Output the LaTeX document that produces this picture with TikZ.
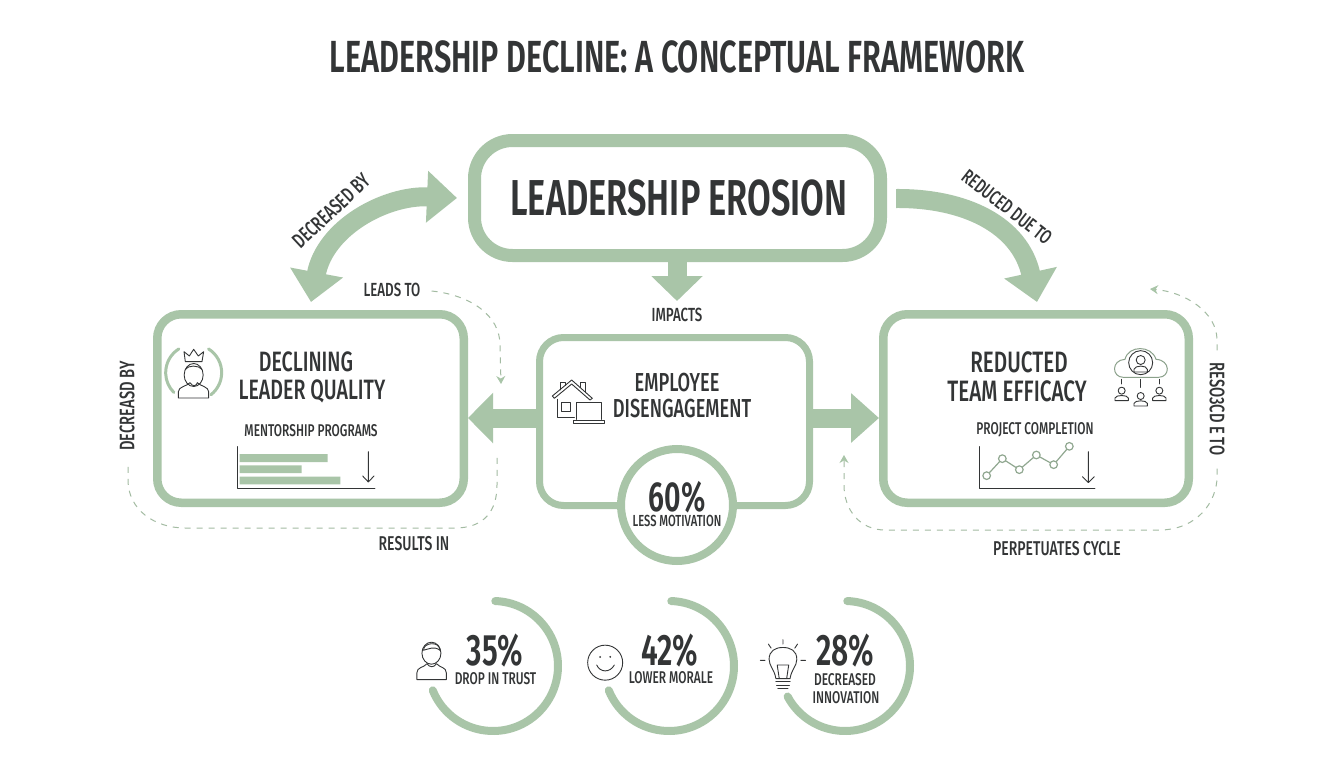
\documentclass[tikz,border=0pt]{standalone}
\usepackage{fontspec}
\setmainfont[FakeStretch=0.70,BoldFont={Fira Sans SemiBold},BoldFeatures={FakeStretch=0.68}]{Fira Sans Medium}
\usetikzlibrary{arrows.meta,calc,positioning}
\definecolor{sage}{HTML}{A9C5A8}
\definecolor{ink}{HTML}{333536}
\newcommand{\fs}[1]{\fontsize{#1}{#1}\selectfont}
\tikzset{
  bigbox/.style={draw=sage,fill=white,rounded corners=#1,inner sep=0pt},
  lbl/.style={text=ink,inner sep=0pt,align=center,font=\fs{#1}},
  head/.style={text=ink,inner sep=0pt,align=center,font=\fs{#1}\bfseries},
  loop/.style={draw=sage!85!gray,line width=1pt,dash pattern=on 6pt off 6pt},
  looptip/.style={-{Stealth[length=8pt,width=9pt,color=sage]}},
  block/.style={draw=sage,line width=#1},
  gauge/.style={draw=sage,line width=8pt,line cap=round},
  icon/.style={draw=ink,line width=.9pt,line cap=round,line join=round},
}
\begin{document}
\begin{tikzpicture}[x=1pt,y=-1pt]
\useasboundingbox[fill=white] (0,0) rectangle (1344,768);
\node[head=45] (title) at (677,57) {LEADERSHIP DECLINE: A CONCEPTUAL FRAMEWORK};

% free ends and guides
\coordinate (armY) at (0,418);
\coordinate (lt) at (457,198);
\coordinate (ld) at (311,302);
\coordinate (rs) at (896,198.5);
\coordinate (rd) at (1037,302);
\coordinate (imp) at (677,301);

% boxes
\node[bigbox=38pt,line width=13pt,minimum width=406pt,minimum height=115pt] (lead) at (677.5,198) {};
\node[head=50.5] at (679,198) {LEADERSHIP EROSION};
\node[bigbox=24pt,line width=8.5pt,minimum width=306.5pt,minimum height=188.5pt] (qual) at (310.5,408.5) {};
\node[bigbox=24pt,line width=8.5pt,minimum width=305.5pt,minimum height=188.5pt] (team) at (1036,408.5) {};
\node[bigbox=24pt,line width=7pt,minimum width=270pt,minimum height=168pt] (eng) at (674.5,421.5) {};

% block connectors
\draw[block=19pt,-{Triangle[length=25pt,width=49pt,color=sage]}] (eng.west |- armY) -- (qual.east |- armY);
\draw[block=19pt,-{Triangle[length=28pt,width=48pt,color=sage]}] (eng.east |- armY) -- (team.west |- armY);
\draw[block=19pt,-{Triangle[length=25pt,width=50pt,color=sage]}] (lead.south -| imp) -- (imp);
\draw[block=19pt,{Triangle[length=30pt,width=50pt,color=sage]}-{Triangle[length=30pt,width=52pt,color=sage]}] (lt) .. controls (385,195) and (325,228) .. (ld);
\draw[block=19pt,-{Triangle[length=30pt,width=52pt,color=sage]}] (rs) .. controls (965,198) and (1020,225) .. (rd);

% badge
\node[draw=sage,fill=white,line width=8pt,circle,minimum size=112pt,inner sep=0pt] (badge) at (677,505) {};
\node[head=42] at (677,497) {60\%};
\node[lbl=16] at (677,521) {LESS MOTIVATION};

% box texts
\node[lbl=28] at (306,362) {DECLINING};
\node[lbl=28] at (312,391) {LEADER QUALITY};
\node[lbl=17] at (311,431) {MENTORSHIP PROGRAMS};
\node[lbl=29.5] at (1019,362) {REDUCTED};
\node[lbl=29.5] at (1017,391) {TEAM EFFICACY};
\node[lbl=17] at (1035,430) {PROJECT COMPLETION};
\node[lbl=26] at (677,382.5) {EMPLOYEE};
\node[lbl=26] at (682,409) {DISENGAGEMENT};

% connector labels
\node[lbl=19] (impl) at (677,315) {IMPACTS};
\node[lbl=19] (lto) at (392,290) {LEADS TO};
\node[lbl=20] (res) at (414,544) {RESULTS IN};
\node[lbl=20] (perp) at (1057,549) {PERPETUATES CYCLE};
\node[lbl=21,rotate=90] (dec) at (127,406) {DECREASD BY};
\node[lbl=21,rotate=-90] (resd) at (1217,409) {RESO3CD E TO};
\node[lbl=21,rotate=43] (decl) at (331,211) {DECREASED BY};
\node[lbl=20,rotate=-38] (redu) at (1007,207) {REDUCED DUE TO};

% dashed loops
\coordinate (a1) at (501,384);
\draw[loop,looptip] (lto.east) ++(11,1) .. controls (470,295) and (500,315) .. (500,345) -- (a1);
\coordinate (a2) at (497,453);
\draw[loop] (dec.west) ++(1,16) -- (128,480) .. controls (128,510) and (155,528) .. (185,528) -- (455,528) .. controls (485,528) and (497,510) .. (497,485) -- (a2);
\coordinate (a3) at (1150,289);
\draw[loop,looptip] (resd.west) ++(0,-12) -- (1217,340) .. controls (1217,312) and (1185,292) .. (a3);
\coordinate (a4) at (844,455);
\draw[loop,looptip] (resd.east) ++(0,13) -- (1217,480) .. controls (1214,510) and (1190,530) .. (1160,530) -- (885,530) .. controls (860,530) and (844,510) .. (844,485) -- (a4);

% bottom gauges
\coordinate (g1) at (493,666);
\coordinate (g2) at (669,666);
\coordinate (g3) at (845,666);
\draw[gauge] (g1) ++(88:65pt) arc[radius=65pt,start angle=88,end angle=-158];
\draw[gauge] (g2) ++(88:65pt) arc[radius=65pt,start angle=88,end angle=-158];
\draw[gauge] (g3) ++(88:65pt) arc[radius=65pt,start angle=88,end angle=-152];
\node[head=44] at (495,651) {35\%};
\node[lbl=17] at (495.5,679) {DROP IN TRUST};
\node[head=44] at (670,651) {42\%};
\node[lbl=17] at (671,678) {LOWER MORALE};
\node[head=44] at (845,651) {28\%};
\node[lbl=17] at (845,680) {DECREASED};
\node[lbl=17] at (846,698) {INNOVATION};

% ---- icons ----
% person (trust)
\begin{scope}[shift={(400,590)},x=.338pt,y=-.338pt]
 \draw[icon] (93,187) ellipse[x radius=9.5pt,y radius=11pt];
 \draw[icon] (70,178) .. controls (68,155) and (118,150) .. (118,178);
 \draw[icon] (70,178) .. controls (85,175) and (100,165) .. (118,178);
 \draw[icon] (50,265) -- (50,245) .. controls (50,228) and (70,230) .. (80,218) .. controls (88,230) and (100,230) .. (108,218) .. controls (118,230) and (137,228) .. (137,245) -- (137,265) -- cycle;
\end{scope}
% smiley
\begin{scope}[shift={(400,590)},x=.338pt,y=-.338pt]
 \draw[icon] (607,215) circle[radius=17.5pt];
 \fill[ink] (592,198) circle[radius=1pt] (622,198) circle[radius=1pt];
 \draw[icon] (582,222) .. controls (592,245) and (622,245) .. (634,222);
\end{scope}
% bulb
\begin{scope}[shift={(400,590)},x=.338pt,y=-.338pt]
 \draw[icon] (1112,262) .. controls (1108,235) and (1092,225) .. (1092,205) .. controls (1092,180) and (1110,170) .. (1133,170) .. controls (1156,170) and (1174,180) .. (1174,205) .. controls (1174,225) and (1158,235) .. (1154,262) -- cycle;
 \draw[icon] (1122,262) -- (1116,222) -- (1150,222) -- (1144,262);
 \draw[icon] (1112,272) -- (1154,272) (1114,282) -- (1152,282) (1118,292) -- (1148,292);
 \draw[icon] (1133,147) -- (1133,160) (1090,160) -- (1098,172) (1176,160) -- (1168,172) (1066,208) -- (1080,208) (1186,208) -- (1200,208);
\end{scope}
% crown leader
\begin{scope}[shift={(100,280)},x=1/3*1pt,y=-1/3*1pt]
 \draw[sage,line width=3pt,line cap=round] (281,278) ++(122:28pt) arc[radius=28pt,start angle=122,end angle=225];
 \draw[sage,line width=3pt,line cap=round] (281,278) ++(58:28pt) arc[radius=28pt,start angle=58,end angle=-52];
 \draw[icon,fill=white] (256,245) -- (252,215) -- (268,228) -- (281,208) -- (295,228) -- (311,215) -- (306,245) -- cycle;
 \draw[icon] (281,285) ellipse[x radius=9.5pt,y radius=11.5pt];
 \draw[icon] (256,268) .. controls (265,255) and (295,255) .. (306,268);
 \draw[icon] (235,354) -- (235,335) .. controls (235,320) and (262,318) .. (270,308) .. controls (278,322) and (290,318) .. (292,308) .. controls (300,318) and (326,320) .. (326,335) -- (326,354) -- cycle;
\end{scope}
% bar chart
\begin{scope}[shift={(100,280)},x=1/3*1pt,y=-1/3*1pt]
 \fill[sage] (419,522) rectangle (683,546) (419,556) rectangle (605,579) (419,590) rectangle (721,613);
 \draw[icon] (412,500) -- (412,626) -- (825,626);
 \draw[icon] (805,515) -- (805,605) (788,588) -- (805,606) -- (822,588);
\end{scope}
% house and laptop
\begin{scope}[shift={(520,300)},x=1/3*1pt,y=-1/3*1pt]
 \draw[icon] (97,288) -- (155,240) -- (217,295) -- (210,300) -- (155,252) -- (103,295) -- cycle;
 \draw[icon] (120,270) -- (120,248) -- (135,248) -- (135,256);
 \draw[icon] (180,262) -- (180,248) -- (197,248) -- (197,278);
 \draw[icon] (112,298) -- (112,352) -- (163,352);
 \draw[icon] (125,308) rectangle (150,333);
 \draw[icon] (168,358) -- (168,308) -- (243,308) -- (243,358);
 \draw[icon] (161,361) rectangle (252,370);
\end{scope}
% cloud and team
\begin{scope}[shift={(830,270)},x=1/3*1pt,y=-1/3*1pt]
 \draw[sage!75!ink,line width=1pt,line join=round] (880,322) .. controls (845,322) and (843,270) .. (885,268) .. controls (895,225) and (965,225) .. (978,268) .. controls (1022,270) and (1022,322) .. (985,322) -- cycle;
 \draw[icon] (932,278) circle[radius=12pt];
 \draw[icon] (932,270) circle[radius=4.5pt];
 \draw[icon] (912,306) -- (912,298) .. controls (915,285) and (950,285) .. (952,298) -- (952,306) -- cycle;
 \draw[icon] (875,328) -- (875,342) (932,328) -- (932,352) (988,328) -- (988,342);
 \foreach \px/\py in {875/362, 932/378, 988/362}{
  \draw[icon] (\px,\py) circle[radius=3.5pt];
  \draw[icon] (\px-20,\py+30) -- (\px-20,\py+22) .. controls (\px-18,\py+12) and (\px+18,\py+12) .. (\px+20,\py+22) -- (\px+20,\py+30) -- cycle;
 }
\end{scope}
% line chart
\begin{scope}[shift={(830,270)},x=1/3*1pt,y=-1/3*1pt]
 \draw[icon] (448,530) -- (448,655) -- (795,655);
 \draw[sage!80!ink,line width=1.2pt] (470,617) -- (517,566) -- (568,599) -- (619,555) -- (671,584) -- (718,529);
 \foreach \px/\py in {470/617,517/566,568/599,619/555,671/584,718/529}
  \draw[sage!80!ink,fill=white,line width=1.2pt] (\px,\py) circle[radius=3.8pt];
 \draw[icon] (775,545) -- (775,637) (757,620) -- (775,638) -- (793,620);
\end{scope}
\end{tikzpicture}
\end{document}
